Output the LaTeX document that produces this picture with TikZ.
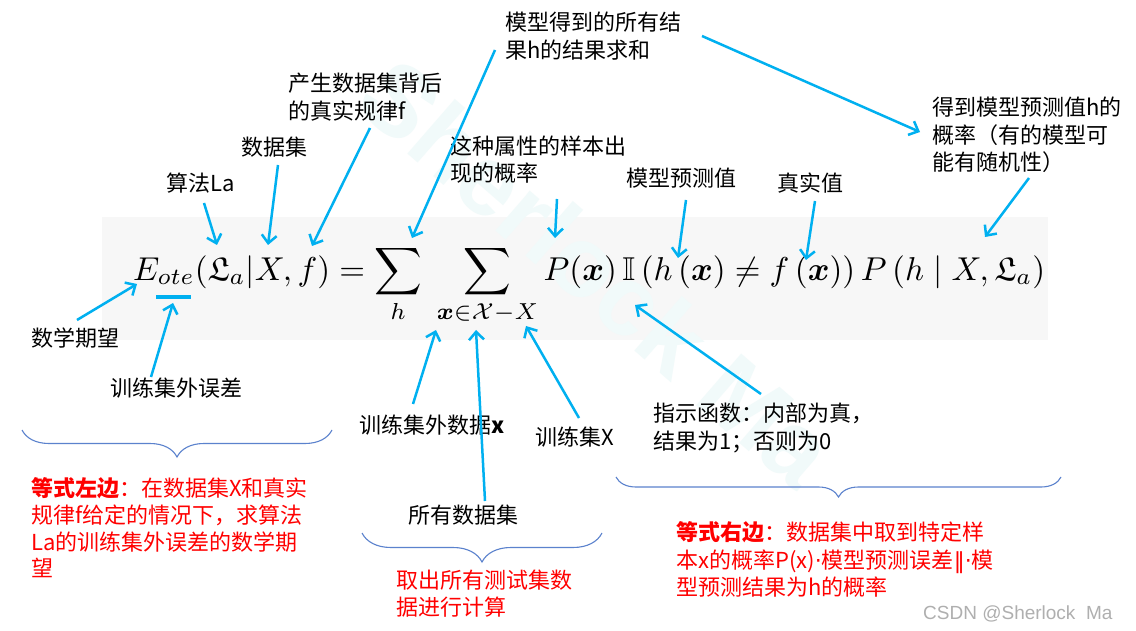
\documentclass[tikz,border=0pt]{standalone}
\usepackage{amsmath,amssymb}
\usepackage{graphicx}
\usepackage[no-math]{fontspec}
\setmainfont{Noto Sans CJK SC}
\newfontfamily\latinsans{Liberation Sans}
\newfontfamily\dejavu{DejaVu Sans}
\usetikzlibrary{arrows.meta,decorations.pathreplacing}
\definecolor{arrowblue}{RGB}{0,176,240}
\definecolor{bracecol}{RGB}{91,130,205}
\definecolor{wmcol}{RGB}{241,250,250}
\definecolor{bandcol}{RGB}{247,247,247}
\definecolor{csdngray}{RGB}{175,175,175}
\newcommand{\sr}{\rule{0pt}{20pt}}
\begin{document}
\begin{tikzpicture}[x=1pt,y=-1pt,
  lbl/.style={font=\fontsize{22}{27.5}\selectfont, align=left, inner sep=0pt, anchor=north west},
  redlbl/.style={lbl, text=red},
  ptr/.style={draw=arrowblue, line width=2.5pt, -{Straight Barb[length=8pt,width=15pt]}},
  bracedec/.style={draw=bracecol, line width=1.1pt, decorate, decoration={brace, mirror, amplitude=#1}}
]
\useasboundingbox (0,0) rectangle (1136,631);
\fill[white] (0,0) rectangle (1136,631);
% formula band
\fill[bandcol] (102,217) rectangle (1048,340);
% watermark
\node[rotate=-41, text=wmcol, inner sep=0pt, font=\latinsans\bfseries\fontsize{100}{100}\selectfont] (wm) at (598,272) {Sherlock Ma};
% formula
\node[anchor=base west, inner sep=0pt] (eq) at (133,280) {\resizebox{912pt}{!}{$\displaystyle E_{ote}(\mathfrak{L}_a|X,f)=\sum_{h}\;\sum_{\boldsymbol{x}\in\mathcal{X}-X}P(\boldsymbol{x})\,\mathbb{I}\,(h\,(\boldsymbol{x})\neq f\,(\boldsymbol{x}))\,P\,(h\mid X,\mathfrak{L}_a)$}};
% labels
\node[lbl] (tsum) at (505,10.4) {\sr 模型得到的所有结\\果h的结果求和};
\node[lbl] (tf) at (288,71.4) {\sr 产生数据集背后\\的真实规律f};
\node[lbl] (tX) at (241,135.4) {\sr 数据集};
\node[lbl] (tLa) at (166,171.4) {\sr 算法La};
\node[lbl, font=\fontsize{22}{27}\selectfont] (tpx) at (450,134.4) {\sr 这种属性的样本出\\现的概率};
\node[lbl] (thx) at (626,166.4) {\sr 模型预测值};
\node[lbl] (tfx) at (777,171.4) {\sr 真实值};
\node[lbl] (tph) at (932,95.4) {\sr 得到模型预测值h的\\概率（有的模型可\\能有随机性）};
\node[lbl] (tE) at (31,326.4) {\sr 数学期望};
\node[lbl] (tote) at (110,376.4) {\sr 训练集外误差};
\node[lbl] (txin) at (359,413.4) {\sr 训练集外数据\textbf{x}};
\node[lbl] (ttrX) at (535,425.4) {\sr 训练集X};
\node[lbl] (tall) at (408,503.4) {\sr 所有数据集};
\node[lbl] (tind) at (653,401.4) {\sr 指示函数：内部为真，\\结果为1；否则为0};
\node[redlbl, font=\fontsize{22}{26.7}\selectfont] (rleft) at (31,476.4) {\sr\textbf{等式左边}：在数据集X和真实\\规律f给定的情况下，求算法\\La的训练集外误差的数学期\\望};
\node[redlbl, font=\fontsize{22}{26.5}\selectfont] (rmid) at (396,568.4) {\sr 取出所有测试集数\\据进行计算};
\node[redlbl] (rright) at (676,520.4) {\sr\textbf{等式右边}：数据集中取到特定样\\本x的概率P(x){\dejavu ·}模型预测误差{\dejavu ‖·}模\\型预测结果为h的概率};
\node[anchor=base west, inner sep=0pt, text=csdngray, font=\latinsans\fontsize{19}{19}\selectfont] (csdn) at (923,619) {CSDN @Sherlock\ \ Ma};
% underline under ote
\coordinate (u1) at (156,297);
\coordinate (u2) at (191,297);
\draw[arrowblue, line width=3.5pt] (u1) -- (u2);
% braces
\coordinate (bLa) at (22,430);
\coordinate (bLb) at (332,430);
\draw[bracedec=27] (bLa) -- (bLb);
\coordinate (bMa) at (362,533);
\coordinate (bMb) at (602,533);
\draw[bracedec=29] (bMa) -- (bMb);
\coordinate (bRa) at (616,477);
\coordinate (bRb) at (1061,477);
\draw[bracedec=20] (bRa) -- (bRb);
% arrow ends
\coordinate (s1) at (204,203);  \coordinate (e1) at (217,245);
\coordinate (s2) at (278,165);  \coordinate (e2) at (268,245);
\coordinate (s3) at (370,128);  \coordinate (e3) at (312,246);
\coordinate (s4) at (495,50);   \coordinate (e4) at (412,238);
\coordinate (s5) at (557,199);  \coordinate (e5) at (555,238);
\coordinate (s6) at (686,200);  \coordinate (e6) at (678,258);
\coordinate (s7) at (815,201);  \coordinate (e7) at (806,260);
\coordinate (s8) at (1029,178); \coordinate (e8) at (985,237);
\coordinate (s9) at (702,36);   \coordinate (e9) at (920,132);
\coordinate (s10) at (77,320);  \coordinate (e10) at (137,284);
\coordinate (s11) at (151,377); \coordinate (e11) at (173,303);
\coordinate (s12) at (413,404); \coordinate (e12) at (436,330);
\coordinate (s13) at (485,501); \coordinate (e13) at (476,330);
\coordinate (s14) at (579,418); \coordinate (e14) at (526,326);
\coordinate (s15) at (761,394); \coordinate (e15) at (635,305);
\foreach \i in {1,...,15} {\draw[ptr] (s\i) -- (e\i);}
\end{tikzpicture}
\end{document}
